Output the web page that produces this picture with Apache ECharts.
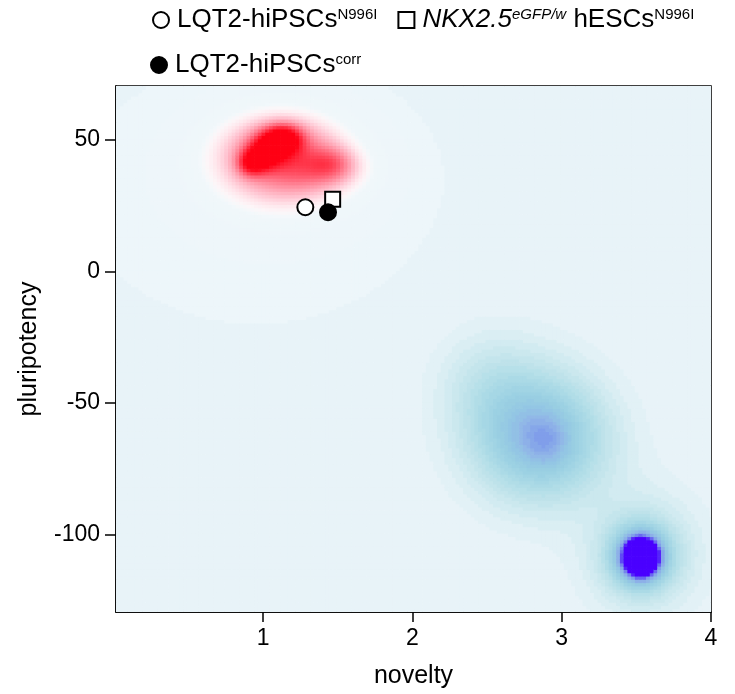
<!DOCTYPE html>
<html>
<head>
<meta charset="utf-8">
<script src="https://cdn.jsdelivr.net/npm/echarts@6/dist/echarts.min.js"></script>
<style>
  html, body { margin: 0; padding: 0; background: #fff; }
  #chart { width: 735px; height: 694px; }
</style>
</head>
<body>
<div id="chart"></div>
<script>
// axis ranges and ticks
var xMin = 0.015, xMax = 4, yMin = -129.5, yMax = 70.5;
var xTicks = [1, 2, 3, 4];
var yTicks = [-100, -50, 0, 50];

// sample groups (one point each)
var groupNames = ['hipscN996I', 'hescN996I', 'hipscCorr'];
var groupX = [1.283, 1.466, 1.435];
var groupY = [24.4, 27.4, 22.5];

// pluripotent reference density (red) - kernels
var redX  = [0.92, 0.99, 1.08, 1.15, 1.12, 1.46, 1.42, 1.15, 0.95];
var redY  = [41, 44, 49, 51, 46, 41, 39, 36, 30];
var redSx = [0.06, 0.08, 0.09, 0.08, 0.30, 0.10, 0.20, 0.35, 0.75];
var redSy = [3, 3.5, 3.8, 3.5, 11, 4, 6, 12, 32];
var redW  = [0.35, 0.45, 0.5, 0.4, 0.45, 0.18, 0.15, 0.2, 0.04];

// differentiated reference density (blue)
var blueX  = [2.90, 2.88, 2.72, 2.48, 3.53, 3.53, 3.55];
var blueY  = [-64.5, -64, -55, -41, -108.5, -108, -106];
var blueSx = [0.10, 0.30, 0.30, 0.22, 0.09, 0.17, 0.30];
var blueSy = [6.5, 16, 18, 13, 5.5, 10, 18];
var blueW  = [0.12, 0.55, 0.2, 0.12, 1.2, 0.5, 0.15];

var cellDx = 0.025, cellDy = 1.25;

function kde(xs, ys, sx, sy, w, x, y) {
  var s = 0;
  for (var i = 0; i < xs.length; i++) {
    var a = (x - xs[i]) / sx[i], b = (y - ys[i]) / sy[i];
    s += w[i] * Math.exp(-0.5 * (a * a + b * b));
  }
  return s;
}

// colour ramps
var blueStops = [
  [0, 232, 243, 248], [0.04, 226, 241, 246], [0.1, 214, 237, 242],
  [0.2, 196, 229, 236], [0.35, 172, 219, 230], [0.5, 154, 208, 226],
  [0.62, 146, 196, 228], [0.7, 144, 180, 232], [0.8, 128, 158, 234],
  [0.9, 100, 90, 242], [1, 74, 0, 255]
];
var redStops = [
  [0.012, 255, 255, 255, 0.22], [0.15, 255, 255, 255, 0.35],
  [0.2, 255, 246, 248, 0.9], [0.26, 255, 228, 234, 1],
  [0.34, 255, 195, 208, 1], [0.47, 255, 145, 162, 1],
  [0.6, 255, 95, 115, 1], [0.75, 255, 40, 60, 1], [0.9, 255, 0, 20, 1]
];

function ramp(stops, v) {
  if (v <= stops[0][0]) return stops[0].slice(1);
  for (var i = 1; i < stops.length; i++) {
    if (v <= stops[i][0]) {
      var a = stops[i - 1], b = stops[i], t = (v - a[0]) / (b[0] - a[0]);
      var out = [];
      for (var k = 1; k < a.length; k++) out.push(a[k] + (b[k] - a[k]) * t);
      return out;
    }
  }
  return stops[stops.length - 1].slice(1);
}

var palette = [], paletteIdx = {};
var cells = [];
var nx = Math.ceil((xMax - xMin) / cellDx), ny = Math.ceil((yMax - yMin) / cellDy);
for (var i = 0; i < nx; i++) {
  for (var j = 0; j < ny; j++) {
    var cx = xMin + (i + 0.5) * cellDx, cy = yMin + (j + 0.5) * cellDy;
    var b = kde(blueX, blueY, blueSx, blueSy, blueW, cx, cy);
    b = Math.floor(b / 0.04) * 0.04;
    var col = ramp(blueStops, b);
    var r = kde(redX, redY, redSx, redSy, redW, cx, cy);
    if (r >= 0.012) {
      var rc = ramp(redStops, r), a = rc[3];
      col = [col[0] * (1 - a) + rc[0] * a, col[1] * (1 - a) + rc[1] * a, col[2] * (1 - a) + rc[2] * a];
    }
    var key = 'rgb(' + Math.round(col[0]) + ',' + Math.round(col[1]) + ',' + Math.round(col[2]) + ')';
    if (paletteIdx[key] === undefined) { paletteIdx[key] = palette.length; palette.push(key); }
    cells.push([cx, cy, paletteIdx[key]]);
  }
}

var font = 'Liberation Sans';
var legendRich = {
  f: { fontSize: 26, fontFamily: font, color: '#000', padding: [0, 0, 0, 3] },
  b: { fontSize: 26, fontFamily: font, color: '#000' },
  i: { fontSize: 26, fontFamily: font, fontStyle: 'italic', color: '#000', padding: [0, 0, 0, 3] },
  s: { fontSize: 15, fontFamily: font, color: '#000', verticalAlign: 'top' },
  si: { fontSize: 15, fontFamily: font, fontStyle: 'italic', color: '#000', verticalAlign: 'top' }
};
var legendText = {
  hipscN996I: '{f|LQT2-hiPSCs}{s|N996I}',
  hescN996I: '{i|NKX2.5}{si|eGFP/w}{b| hESCs}{s|N996I}',
  hipscCorr: '{f|LQT2-hiPSCs}{s|corr}'
};
var symbols = ['circle', 'rect', 'circle'];
var fills = ['#fff', '#fff', '#000'];
var sizes = [16, 15, 16];

var chart = echarts.init(document.getElementById('chart'));

var series = [{
  type: 'custom',
  name: 'density',
  data: cells,
  clip: true,
  silent: true,
  progressive: 0,
  z: 1,
  encode: { x: 0, y: 1 },
  renderItem: function (params, api) {
    var x = api.value(0), y = api.value(1);
    var p0 = api.coord([x - cellDx / 2, y + cellDy / 2]);
    var p1 = api.coord([x + cellDx / 2, y - cellDy / 2]);
    return {
      type: 'rect',
      shape: { x: p0[0], y: p0[1], width: p1[0] - p0[0] + 0.7, height: p1[1] - p0[1] + 0.7 },
      style: { fill: palette[api.value(2)] }
    };
  }
}];
groupNames.forEach(function (n, k) {
  series.push({
    type: 'scatter',
    name: n,
    data: [[groupX[k], groupY[k]]],
    symbol: symbols[k],
    symbolSize: sizes[k],
    z: 5,
    itemStyle: { color: fills[k], borderColor: '#000', borderWidth: 2, opacity: 1 }
  });
});

chart.setOption({
  animation: false,
  legend: [{
    data: ['hipscN996I', 'hescN996I'],
    left: 147, top: 2,
    itemWidth: 16, itemHeight: 16, itemGap: 20,
    formatter: function (n) { return legendText[n]; },
    textStyle: { rich: legendRich }
  }, {
    data: ['hipscCorr'],
    left: 145, top: 47,
    itemWidth: 16, itemHeight: 16,
    formatter: function (n) { return legendText[n]; },
    textStyle: { rich: legendRich }
  }],
  grid: {
    left: 116, right: 24, top: 86, bottom: 81,
    show: true, borderColor: '#000', borderWidth: 1.5, backgroundColor: 'transparent'
  },
  xAxis: {
    type: 'value', min: xMin, max: xMax,
    name: 'novelty', nameLocation: 'middle', nameGap: 52,
    nameTextStyle: { fontSize: 25, fontFamily: font, color: '#000' },
    axisLine: { show: true, onZero: false, lineStyle: { color: '#000', width: 1.5 } },
    axisTick: { show: true, inside: false, length: 10, customValues: xTicks, lineStyle: { color: '#000', width: 1.5 } },
    axisLabel: { customValues: xTicks, margin: 15, fontSize: 23, fontFamily: font, color: '#000' },
    splitLine: { show: false }
  },
  yAxis: {
    type: 'value', min: yMin, max: yMax,
    name: 'pluripotency', nameLocation: 'middle', nameGap: 74, nameRotate: 90,
    nameTextStyle: { fontSize: 25, fontFamily: font, color: '#000' },
    axisLine: { show: true, onZero: false, lineStyle: { color: '#000', width: 1.5 } },
    axisTick: { show: true, inside: false, length: 11, customValues: yTicks, lineStyle: { color: '#000', width: 1.5 } },
    axisLabel: { customValues: yTicks, margin: 16, fontSize: 23, fontFamily: font, color: '#000' },
    splitLine: { show: false }
  },
  series: series
});
</script>
</body>
</html>
